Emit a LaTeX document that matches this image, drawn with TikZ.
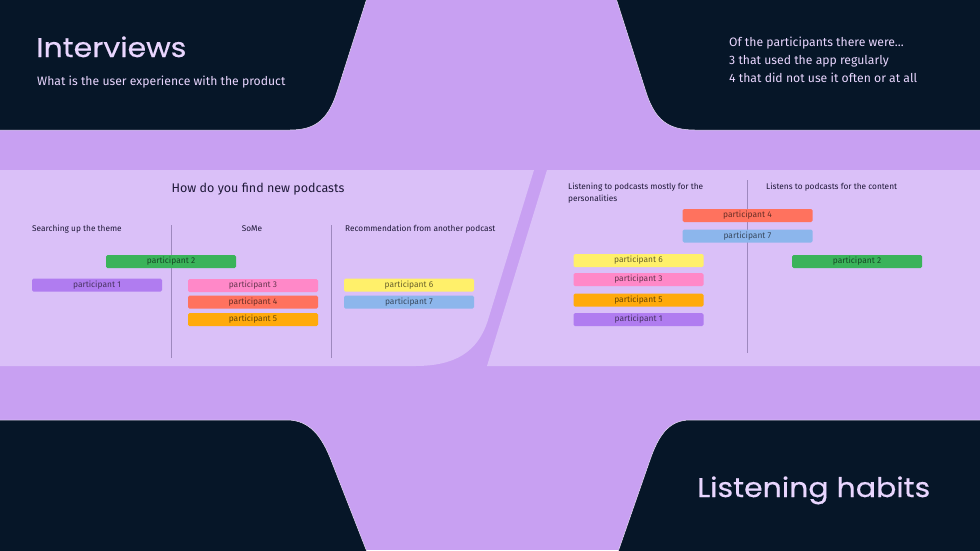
\documentclass[tikz,border=0pt]{standalone}
\usepackage{fontspec}
\setmainfont{Fira Sans}
\newfontfamily\titlefont{Poppins}[FakeStretch=1.11,FakeBold=0.5]
\definecolor{bglilac}{HTML}{C8A0F2}
\definecolor{panel}{HTML}{DAC0F8}
\definecolor{navy}{HTML}{061628}
\definecolor{lighttext}{HTML}{E9D6FF}
\definecolor{darktext}{HTML}{1E1838}
\definecolor{sepline}{HTML}{9E88BE}
\definecolor{cgreen}{HTML}{3AB35A}
\definecolor{cpurple}{HTML}{B07CF0}
\definecolor{cpink}{HTML}{FF88C8}
\definecolor{cred}{HTML}{FF725E}
\definecolor{corange}{HTML}{FFAA0C}
\definecolor{cyellow}{HTML}{FFF06A}
\definecolor{cblue}{HTML}{8CB6EC}
\begin{document}
\begin{tikzpicture}[x=1pt,y=-1pt,
  darkshape/.style={fill=navy,draw=lighttext!70,line width=0.5pt},
  panelshape/.style={fill=panel},
  bar/.style={minimum width=130pt,minimum height=13pt,inner sep=0pt,rounded corners=1.5pt,
    font=\fontsize{8.4}{9}\selectfont,text=black,text opacity=0.6},
  bigtitle/.style={font=\titlefont\fontsize{27}{30}\selectfont,text=lighttext,inner sep=0pt},
  lighttxt/.style={font=\fontsize{12.2}{14}\selectfont,text=lighttext,inner sep=0pt},
  qtitle/.style={font=\fontsize{12.5}{14}\selectfont,text=darktext,inner sep=0pt},
  colhead/.style={font=\fontsize{8.3}{10}\selectfont,text=darktext,inner sep=0pt},
  sep/.style={draw=sepline,line width=0.8pt}]
\useasboundingbox (0,0) rectangle (980,550);
\fill[bglilac] (0,0) rectangle (980,550);
% dark corner shapes
\filldraw[darkshape] (-2,-2) -- (367,-2) -- (337,92) .. controls (328,120) and (315,130) .. (290,130) -- (-2,130) -- cycle;
\filldraw[darkshape] (982,-2) -- (616,-2) -- (646,92) .. controls (655,120) and (668,130) .. (695,130) -- (982,130) -- cycle;
\filldraw[darkshape] (-2,552) -- (-2,420) -- (287,420) .. controls (310,420) and (322,437) .. (331,460) -- (367,552) -- cycle;
\filldraw[darkshape] (982,552) -- (982,420) -- (690,420) .. controls (668,420) and (658,437) .. (650,460) -- (618,552) -- cycle;
% light panels
\fill[panelshape] (0,170) -- (534,170) -- (488,320) .. controls (478,352) and (455,366) .. (415,366) -- (0,366) -- cycle;
\fill[panelshape] (547,170) -- (980,170) -- (980,366) -- (487,366) -- cycle;
% header texts
\node[bigtitle,anchor=base west] (tInt) at (36,57) {Interviews};
\node[lighttxt,anchor=base west] (tSub) at (37,85) {What is the user experience with the product};
\node[lighttxt,anchor=base west] (tR1) at (729,46) {Of the participants there were...};
\node[lighttxt,anchor=base west] (tR2) at (729,64) {3 that used the app regularly};
\node[lighttxt,anchor=base west] (tR3) at (729,82) {4 that did not use it often or at all};
\node[bigtitle,anchor=base west] (tLH) at (697,497) {Listening habits};
% left panel
\node[qtitle,anchor=base] (q1) at (258,192) {How do you find new podcasts};
\node[colhead,anchor=base west] (h1) at (32,231) {Searching up the theme};
\node[colhead,anchor=base] (h2) at (252,231) {SoMe};
\node[colhead,anchor=base west] (h3) at (345,231) {Recommendation from another podcast};
\draw[sep] (171,225) -- (171,358);
\draw[sep] (331,225) -- (331,358);
\node[bar,fill=cgreen] (L2) at (171,261.5) {participant 2};
\node[bar,fill=cpurple] (L1) at (97,285) {participant 1};
\node[bar,fill=cpink] (L3) at (253,285.5) {participant 3};
\node[bar,fill=cred] (L4) at (253,302) {participant 4};
\node[bar,fill=corange] (L5) at (253,319.5) {participant 5};
\node[bar,fill=cyellow] (L6) at (409,285) {participant 6};
\node[bar,fill=cblue] (L7) at (409,302) {participant 7};
% right panel
\node[colhead,anchor=base west] (h4) at (568,189) {Listening to podcasts mostly for the};
\node[colhead,anchor=base west] (h4b) at (568,201.5) {personalities};
\node[colhead,anchor=base west] (h5) at (766,189) {Listens to podcasts for the content};
\draw[sep] (747,180) -- (747,353);
\node[bar,fill=cred] (R4) at (747.5,215.5) {participant 4};
\node[bar,fill=cblue] (R7) at (747.5,236) {participant 7};
\node[bar,fill=cgreen] (R2) at (857,261.5) {participant 2};
\node[bar,fill=cyellow] (R6) at (638.5,260.5) {participant 6};
\node[bar,fill=cpink] (R3) at (638.5,279.5) {participant 3};
\node[bar,fill=corange] (R5) at (638.5,300) {participant 5};
\node[bar,fill=cpurple] (R1) at (638.5,319.5) {participant 1};
\end{tikzpicture}
\end{document}
